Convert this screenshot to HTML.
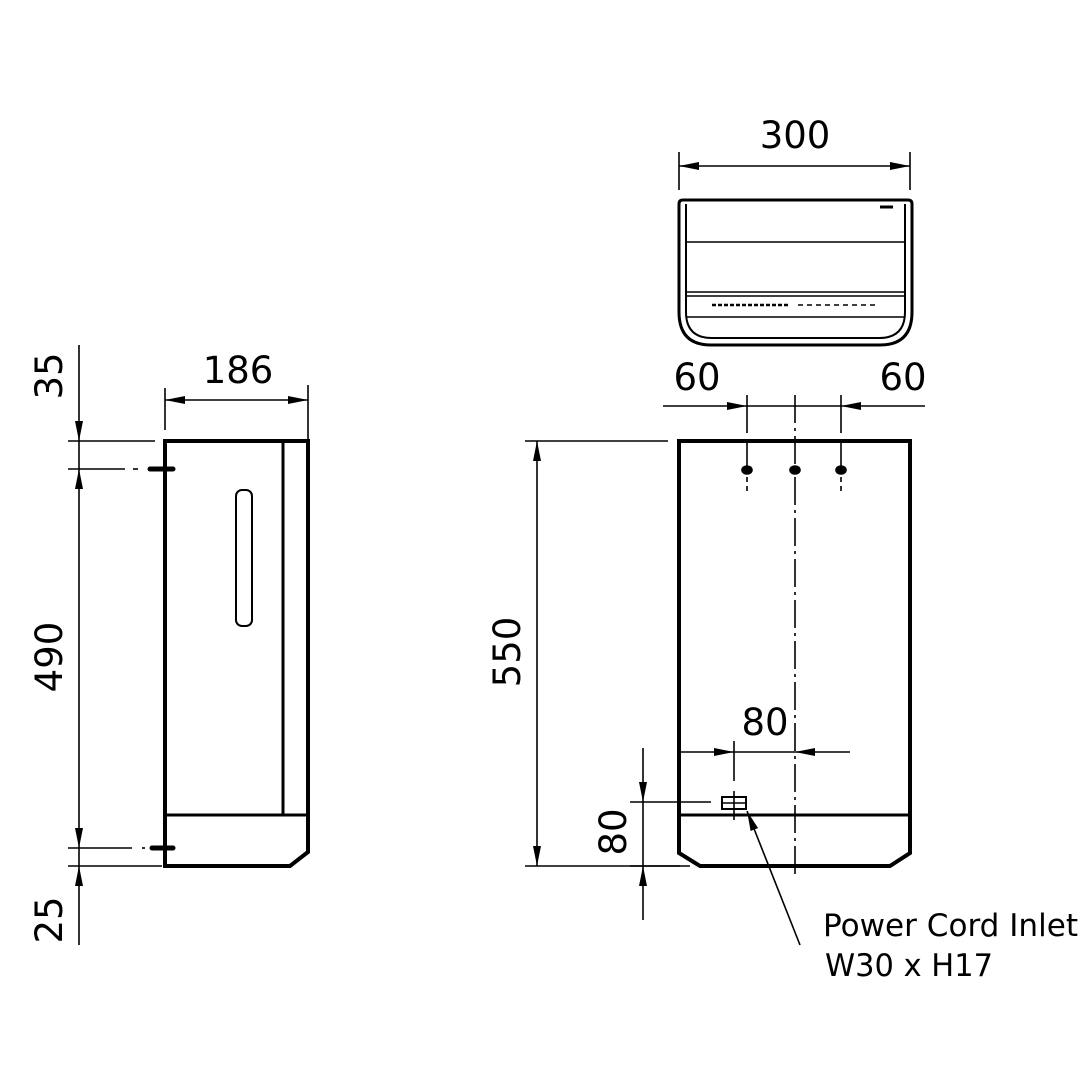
<!DOCTYPE html><html><head><style>body{margin:0;background:#fff}svg{display:block}text{font-family:"DejaVu Sans","Liberation Sans",sans-serif;fill:#000}</style></head><body>
<svg width="1090" height="1090" viewBox="0 0 1090 1090" xmlns="http://www.w3.org/2000/svg">
<defs><marker id="a" viewBox="0 0 20 8" refX="20" refY="4" markerWidth="20" markerHeight="8" markerUnits="userSpaceOnUse" orient="auto"><path d="M0,0 L20,4 L0,8z"/></marker></defs>
<g fill="none" stroke="#000" stroke-width="1.6">
<path d="M165,441 H308 V852 L290,866 H165 Z" stroke-width="4"/>
<line x1="283" y1="441" x2="283" y2="815" stroke-width="3"/>
<line x1="165" y1="815" x2="308" y2="815" stroke-width="3"/>
<rect x="236" y="490" width="16" height="136" rx="6" stroke-width="2"/>
<line x1="165" y1="388" x2="165" y2="430"/><line x1="308" y1="385" x2="308" y2="441"/>
<line x1="236" y1="400" x2="165" y2="400" marker-end="url(#a)"/><line x1="236" y1="400" x2="308" y2="400" marker-end="url(#a)"/>
<line x1="68" y1="441" x2="155" y2="441"/><line x1="68" y1="469" x2="125" y2="469"/><line x1="133" y1="469" x2="138" y2="469"/><line x1="150" y1="469" x2="173" y2="469" stroke-width="5" stroke-linecap="round"/>
<line x1="68" y1="848" x2="132" y2="848"/><line x1="142" y1="848" x2="145" y2="848"/><line x1="152" y1="848" x2="173" y2="848" stroke-width="5" stroke-linecap="round"/>
<line x1="68" y1="866" x2="162" y2="866"/>
<line x1="79" y1="345" x2="79" y2="441" marker-end="url(#a)"/>
<line x1="79" y1="441" x2="79" y2="469"/>
<line x1="79" y1="658" x2="79" y2="469" marker-end="url(#a)"/><line x1="79" y1="658" x2="79" y2="848" marker-end="url(#a)"/>
<line x1="79" y1="848" x2="79" y2="866"/>
<line x1="79" y1="945" x2="79" y2="866" marker-end="url(#a)"/>
<path d="M679,204 Q679,200 683,200 H908 Q912,200 912,204 V312 Q912,345 880,345 H711 Q679,345 679,312 Z" stroke-width="3"/>
<path d="M686,204 V312 Q686,338 712,338 H879 Q905,338 905,312 V204" stroke-width="2"/>
<line x1="686" y1="242" x2="905" y2="242"/><line x1="686" y1="292" x2="905" y2="292"/><line x1="686" y1="296" x2="905" y2="296"/><line x1="686" y1="317" x2="905" y2="317"/>
<line x1="880" y1="207" x2="893" y2="207" stroke-width="3"/>
<line x1="712" y1="305" x2="790" y2="305" stroke-width="2.5" stroke-dasharray="4,2"/><line x1="798" y1="305" x2="875" y2="305" stroke-dasharray="5,4"/>
<line x1="679" y1="152" x2="679" y2="190"/><line x1="910" y1="152" x2="910" y2="190"/>
<line x1="794" y1="166" x2="679" y2="166" marker-end="url(#a)"/><line x1="794" y1="166" x2="910" y2="166" marker-end="url(#a)"/>
<path d="M679,441 H910 V853 L890,866 H700 L679,853 Z" stroke-width="4"/>
<line x1="679" y1="815" x2="910" y2="815" stroke-width="3"/>
<line x1="795" y1="395" x2="795" y2="875" stroke-dasharray="28,5,3,5"/>
<line x1="747" y1="395" x2="747" y2="433"/><line x1="747" y1="441" x2="747" y2="467"/><line x1="747" y1="477" x2="747" y2="492" stroke-dasharray="5,4"/>
<line x1="841" y1="395" x2="841" y2="433"/><line x1="841" y1="441" x2="841" y2="467"/><line x1="841" y1="477" x2="841" y2="492" stroke-dasharray="5,4"/>
<ellipse cx="747" cy="470" rx="5" ry="4" fill="#000"/><ellipse cx="795" cy="470" rx="5" ry="4" fill="#000"/><ellipse cx="841" cy="470" rx="5" ry="4" fill="#000"/>
<line x1="663" y1="406" x2="747" y2="406" marker-end="url(#a)"/><line x1="747" y1="406" x2="841" y2="406"/><line x1="925" y1="406" x2="841" y2="406" marker-end="url(#a)"/>
<line x1="525" y1="441" x2="668" y2="441"/><line x1="525" y1="866" x2="680" y2="866"/>
<line x1="537" y1="652" x2="537" y2="441" marker-end="url(#a)"/><line x1="537" y1="652" x2="537" y2="866" marker-end="url(#a)"/>
<line x1="679" y1="752" x2="734" y2="752" marker-end="url(#a)"/><line x1="734" y1="752" x2="795" y2="752"/><line x1="850" y1="752" x2="795" y2="752" marker-end="url(#a)"/>
<line x1="734" y1="741" x2="734" y2="781"/><line x1="734" y1="791" x2="734" y2="820"/>
<rect x="722" y="797" width="24" height="12" stroke-width="2"/><line x1="722" y1="803" x2="746" y2="803"/>
<line x1="630" y1="802" x2="711" y2="802"/><line x1="630" y1="866" x2="690" y2="866"/>
<line x1="643" y1="748" x2="643" y2="802" marker-end="url(#a)"/><line x1="643" y1="802" x2="643" y2="866"/><line x1="643" y1="920" x2="643" y2="866" marker-end="url(#a)"/>
<line x1="800" y1="945" x2="747" y2="811" marker-end="url(#a)"/>
</g>
<g font-size="37">
<text x="238" y="383" text-anchor="middle">186</text>
<text x="795" y="148" text-anchor="middle">300</text>
<text x="697" y="390" text-anchor="middle">60</text>
<text x="903" y="390" text-anchor="middle">60</text>
<text x="765" y="735" text-anchor="middle">80</text>
<text transform="translate(62,376) rotate(-90)" text-anchor="middle">35</text>
<text transform="translate(62,657) rotate(-90)" text-anchor="middle">490</text>
<text transform="translate(62,920) rotate(-90)" text-anchor="middle">25</text>
<text transform="translate(520,652) rotate(-90)" text-anchor="middle">550</text>
<text transform="translate(626,832) rotate(-90)" text-anchor="middle">80</text>
</g>
<g style="font-family:'Liberation Sans',sans-serif" font-size="31">
<text x="823" y="936" textLength="255" lengthAdjust="spacingAndGlyphs">Power Cord Inlet</text>
<text x="825" y="976" textLength="168" lengthAdjust="spacingAndGlyphs">W30 x H17</text>
</g>
</svg></body></html>
